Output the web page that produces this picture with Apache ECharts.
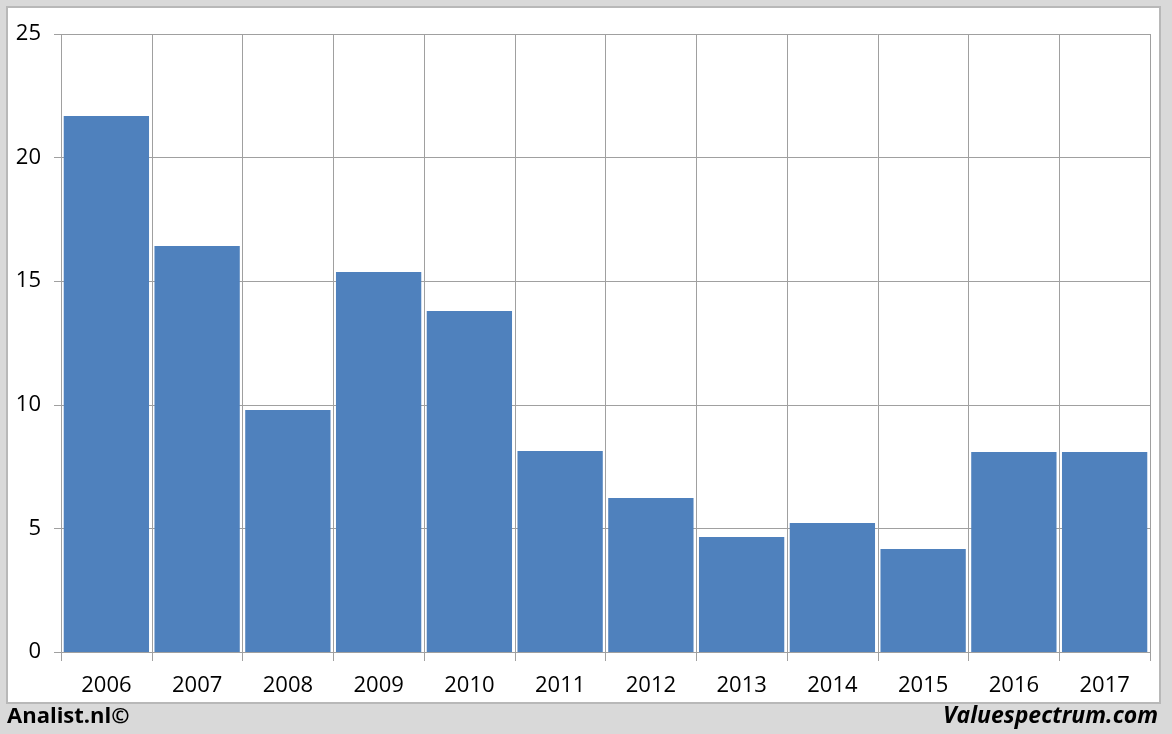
<!DOCTYPE html>
<html><head><meta charset="utf-8">
<script src="https://cdn.jsdelivr.net/npm/echarts@6/dist/echarts.min.js"></script>
<style>html,body{margin:0;padding:0;background:#d9d9d9;}#c{width:1172px;height:734px;}</style>
</head><body><div id="c"></div>
<script>
var categories = ['2006','2007','2008','2009','2010','2011','2012','2013','2014','2015','2016','2017'];
var values = [21.68, 16.42, 9.79, 15.37, 13.79, 8.13, 6.23, 4.65, 5.22, 4.17, 8.09, 8.09];
var yTicks = [0, 5, 10, 15, 20, 25];

var chart = echarts.init(document.getElementById('c'));
var font = '"Open Sans", "DejaVu Sans", sans-serif';
chart.setOption({
  backgroundColor: '#d9d9d9',
  animation: false,
  graphic: [
    {type:'rect', shape:{x:7,y:7,width:1153,height:696}, style:{fill:'#ffffff', stroke:'#b8b8b8', lineWidth:2}, z:-10},
    {type:'text', left:7, top:706, style:{text:'Analist.nl©', font:'bold 22px ' + font, fill:'#000'}},
    {type:'text', right:14, top:705, style:{text:'Valuespectrum.com', font:'italic bold 23px ' + font, fill:'#000'}}
  ],
  grid: {left:61, right:22, top:34, bottom:82},
  xAxis: {
    type:'category', data:categories, boundaryGap:true,
    axisLine:{show:true, lineStyle:{color:'#a0a0a0', width:1}},
    axisTick:{show:true, length:9, lineStyle:{color:'#a0a0a0'}},
    splitLine:{show:true, lineStyle:{color:'#a0a0a0', width:1}},
    axisLabel:{color:'#000', fontSize:22, fontFamily:font, margin:23}
  },
  yAxis: {
    type:'value', min:0, max:25, interval:5,
    axisLine:{show:false},
    axisTick:{show:true, length:7, lineStyle:{color:'#a0a0a0'}},
    splitLine:{show:true, lineStyle:{color:'#a0a0a0', width:1}},
    axisLabel:{color:'#000', fontSize:22, fontFamily:font, margin:20,
      formatter:function(v){return yTicks.indexOf(v)>=0 ? String(v) : '';}}
  },
  series: [{
    type:'bar', data:values, barCategoryGap:'6%',
    itemStyle:{color:'#4f81bd'}
  }]
});
</script></body></html>
